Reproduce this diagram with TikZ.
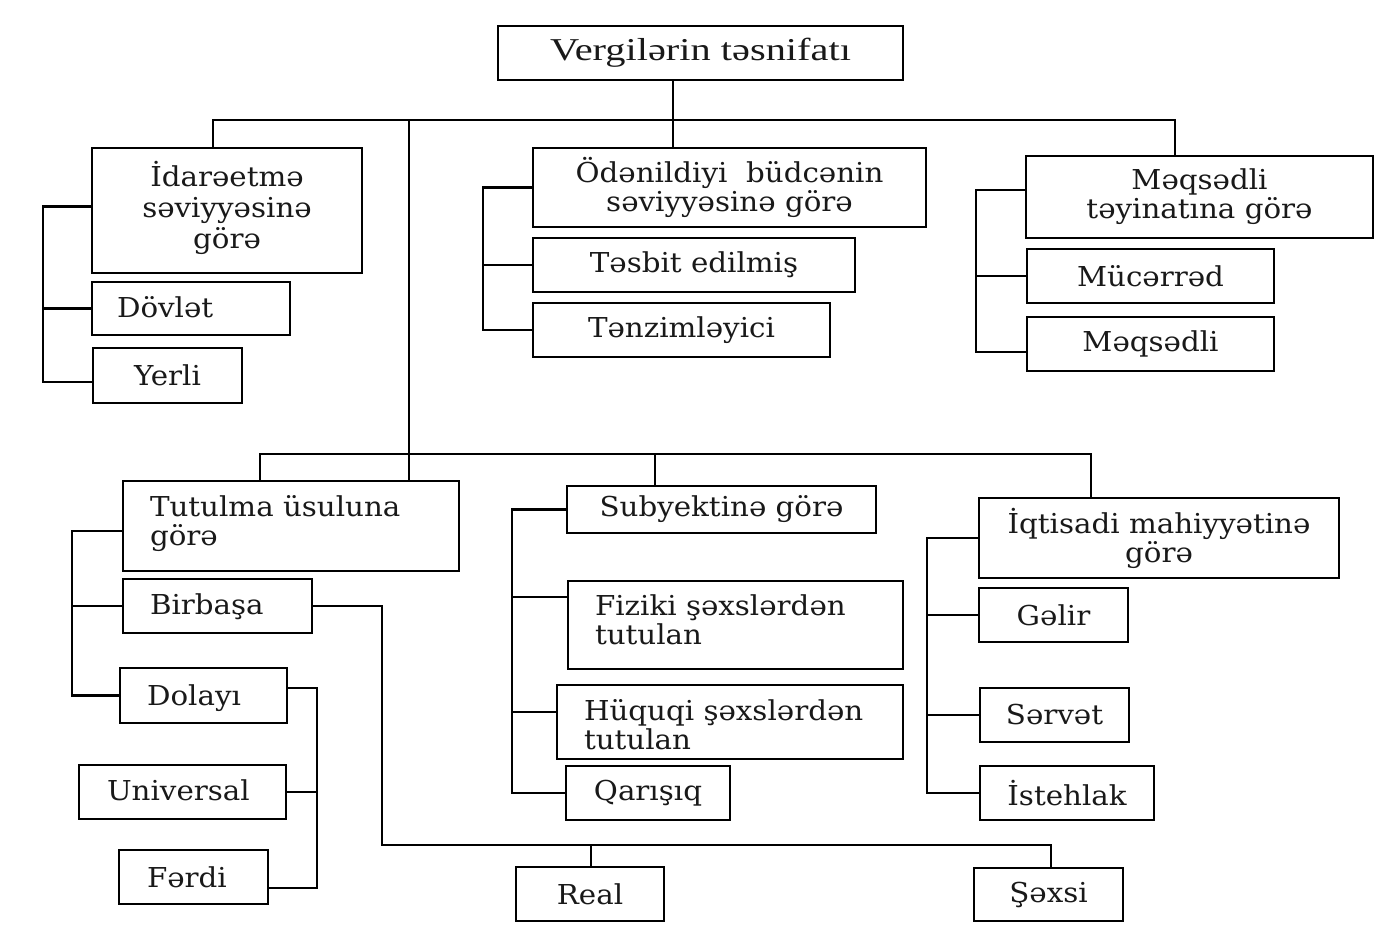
\documentclass[tikz,border=0pt]{standalone}
\usepackage{fontspec}
\setmainfont{DejaVu Serif}[FakeStretch=1.07]
\newfontfamily\topfont{Liberation Serif}[FakeStretch=1.27]
\newcommand\bodyfnt{\fontsize{13.7pt}{14.5pt}\selectfont}
\newcommand\lft[4][-5pt]{\makebox[#2][l]{\hspace*{#3}\raisebox{#1}[0pt][0pt]{\begin{tabular}{@{}l@{}}#4\end{tabular}}}}
\begin{document}
\begin{tikzpicture}[x=0.5pt,y=-0.5pt,
  box/.style={draw, line width=1.1pt, inner sep=0pt, font=\bodyfnt, align=center, text=black!90},
  ln/.style={line width=1.1pt}]
\useasboundingbox (0,0) rectangle (1385,949);
\fill[white] (0,0) rectangle (1385,949);

% ---- boxes ----
\node[box, minimum width=202.5pt, minimum height=27pt, font=\topfont\fontsize{15.9pt}{17pt}\selectfont] (top) at (700.5,53) {Vergilərin təsnifatı};

\node[box, minimum width=135pt, minimum height=62.5pt, font=\fontsize{13.7pt}{15.5pt}\selectfont] (idare) at (227,210.5) {\raisebox{-3pt}[0pt][0pt]{\begin{tabular}{@{}c@{}}İdarəetmə\\səviyyəsinə\\görə\end{tabular}}};
\node[box, minimum width=99pt, minimum height=26.5pt] (dovlet) at (191,308.5) {\lft{99pt}{12.5pt}{Dövlət}};
\node[box, minimum width=74.5pt, minimum height=27.5pt] (yerli) at (167.5,375.5) {Yerli};

\node[box, minimum width=196.5pt, minimum height=39.5pt] (odenil) at (729.5,187.5) {Ödənildiyi\ \ büdcənin\\səviyyəsinə görə};
\node[box, minimum width=161pt, minimum height=27pt] (tesbit) at (694,265) {Təsbit edilmiş};
\node[box, minimum width=148.5pt, minimum height=27pt] (tenzim) at (681.5,330) {Tənzimləyici};

\node[box, minimum width=173.5pt, minimum height=41pt] (meqtey) at (1199.5,197) {Məqsədli\\təyinatına görə};
\node[box, minimum width=123.5pt, minimum height=27pt] (mucerred) at (1150.5,276) {Mücərrəd};
\node[box, minimum width=123.5pt, minimum height=27pt] (meqsedli) at (1150.5,344) {Məqsədli};

\node[box, minimum width=168pt, minimum height=45pt] (tutulma) at (291,526) {\lft[-3pt]{168pt}{13.5pt}{Tutulma üsuluna\\görə}};
\node[box, minimum width=94.5pt, minimum height=27pt] (birbasa) at (217.5,606) {\lft{94.5pt}{13.5pt}{Birbaşa}};
\node[box, minimum width=83.5pt, minimum height=27.5pt] (dolayi) at (203.5,695.5) {\lft[-5.5pt]{83.5pt}{13.5pt}{Dolayı}};
\node[box, minimum width=103.5pt, minimum height=27pt] (universal) at (182.5,792) {\lft{103.5pt}{14pt}{Universal}};
\node[box, minimum width=74.5pt, minimum height=27pt] (ferdi) at (193.5,877) {\lft[-6pt]{74.5pt}{14pt}{Fərdi}};

\node[box, minimum width=154.5pt, minimum height=23.5pt] (subyekt) at (721.5,509.5) {Subyektinə görə};
\node[box, minimum width=167.5pt, minimum height=44pt] (fiziki) at (735.5,625) {\lft[-3pt]{167.5pt}{13.5pt}{Fiziki şəxslərdən\\tutulan}};
\node[box, minimum width=173pt, minimum height=37pt] (huquqi) at (730,722) {\lft[-7pt]{173pt}{13.5pt}{Hüquqi şəxslərdən\\tutulan}};
\node[box, minimum width=82pt, minimum height=27pt] (qarisiq) at (648,793) {Qarışıq};
\node[box, minimum width=74pt, minimum height=27pt] (real) at (590,894) {Real};

\node[box, minimum width=180pt, minimum height=40pt] (iqtisadi) at (1159,538) {İqtisadi mahiyyətinə\\görə};
\node[box, minimum width=74.5pt, minimum height=27pt] (gelir) at (1053.5,615) {Gəlir};
\node[box, minimum width=74.5pt, minimum height=27pt] (servet) at (1054.5,715) {Sərvət};
\node[box, minimum width=87pt, minimum height=27pt] (istehlak) at (1067,793) {İstehlak};
\node[box, minimum width=74.5pt, minimum height=26.5pt] (sexsi) at (1048.5,894.5) {Şəxsi};

% ---- upper bus ----
\coordinate (tA) at (213,120); \coordinate (tB) at (1175,120);
\coordinate (tT) at (409,120); \coordinate (tC) at (673,120);
\draw[ln] (idare.north -| tA) -- (tA) -- (tB) -- (meqtey.north -| tB);
\draw[ln] (top.south -| tC) -- (odenil.north -| tC);
\draw[ln] (tT) -- (tutulma.north -| tT);

% ---- lower bus ----
\coordinate (lA) at (260,454); \coordinate (lB) at (1091,454); \coordinate (lC) at (655,454);
\draw[ln] (tutulma.north -| lA) -- (lA) -- (lB) -- (iqtisadi.north -| lB);
\draw[ln] (lC) -- (subyekt.north -| lC);

% ---- brackets ----
\coordinate (xI) at (43,0);
\coordinate (idw) at ([yshift=2pt]idare.west);
\coordinate (yew) at ([yshift=-3.25pt]yerli.west);
\draw[ln] (idw) -- (idw -| xI) -- (yew -| xI) -- (yew);
\draw[ln] (dovlet.west) -- (dovlet.west -| xI);

\coordinate (xO) at (483,0);
\draw[ln] (odenil.west) -- (odenil.west -| xO) -- (tenzim.west -| xO) -- (tenzim.west);
\draw[ln] (tesbit.west) -- (tesbit.west -| xO);

\coordinate (xM) at (976,0);
\coordinate (mtw) at ([yshift=3.5pt]meqtey.west);
\coordinate (msw) at ([yshift=-4pt]meqsedli.west);
\draw[ln] (mtw) -- (mtw -| xM) -- (msw -| xM) -- (msw);
\draw[ln] (mucerred.west) -- (mucerred.west -| xM);

\coordinate (xT) at (72,0);
\coordinate (tuw) at ([yshift=-2.5pt]tutulma.west);
\draw[ln] (tuw) -- (tuw -| xT) -- (dolayi.west -| xT) -- (dolayi.west);
\draw[ln] (birbasa.west) -- (birbasa.west -| xT);

\coordinate (xD) at (317,0);
\coordinate (dle) at ([yshift=3.75pt]dolayi.east);
\coordinate (fde) at ([yshift=-5.5pt]ferdi.east);
\draw[ln] (dle) -- (dle -| xD) -- (fde -| xD) -- (fde);
\draw[ln] (universal.east) -- (universal.east -| xD);

\coordinate (xS) at (512,0);
\coordinate (fzw) at ([yshift=14pt]fiziki.west);
\coordinate (hqw) at ([yshift=5pt]huquqi.west);
\draw[ln] (subyekt.west) -- (subyekt.west -| xS) -- (qarisiq.west -| xS) -- (qarisiq.west);
\draw[ln] (fzw) -- (fzw -| xS);
\draw[ln] (hqw) -- (hqw -| xS);

\coordinate (xQ) at (927,0);
\draw[ln] (iqtisadi.west) -- (iqtisadi.west -| xQ) -- (istehlak.west -| xQ) -- (istehlak.west);
\draw[ln] (gelir.west) -- (gelir.west -| xQ);
\draw[ln] (servet.west) -- (servet.west -| xQ);

% ---- Birbaşa to Real / Şəxsi ----
\coordinate (rA) at (382,845); \coordinate (rB) at (1051,845); \coordinate (rC) at (591,845);
\draw[ln] (birbasa.east) -- (birbasa.east -| rA) -- (rA) -- (rB) -- (sexsi.north -| rB);
\draw[ln] (rC) -- (real.north -| rC);
\end{tikzpicture}
\end{document}
